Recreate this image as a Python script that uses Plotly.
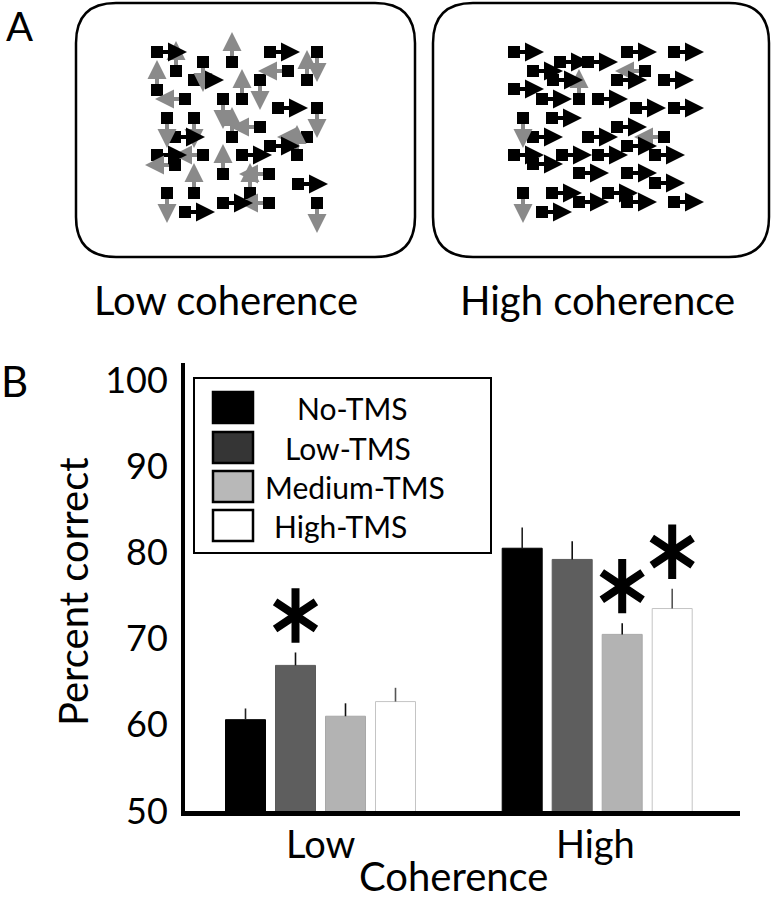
import plotly.graph_objects as go

# ---------------- data ----------------
coherence = ["Low", "High"]
conditions = ["No-TMS", "Low-TMS", "Medium-TMS", "High-TMS"]
pct_low = [60.6, 66.9, 61.0, 62.7]
pct_high = [80.5, 79.2, 70.5, 73.5]
err_low = [1.3, 1.5, 1.5, 1.6]
err_high = [2.4, 2.1, 1.3, 2.3]
significant = [(0, 1), (1, 2), (1, 3)]  # (coherence index, condition index)
y_ticks = [50, 60, 70, 80, 90, 100]

# panel A: moving-dot schematics (dot position, motion direction)
low_dot_x = [157, 176, 203, 194, 232, 270, 317, 307, 288, 157, 185, 242, 260, 223, 278, 317,
             167, 194, 175, 260, 232, 307, 270, 297, 157, 175, 203, 223, 242, 194, 269, 250,
             298, 167, 185, 223, 269, 317]
low_dot_y = [52, 71, 62, 80, 62, 52, 52, 80, 71, 90, 99, 99, 80, 99, 108, 108,
             118, 118, 137, 127, 137, 137, 146, 155, 155, 165, 155, 174, 155, 193, 174, 193,
             184, 193, 212, 203, 203, 203]
low_dot_dir = ["R", "U", "D", "R", "U", "R", "D", "U", "L", "U", "L", "U", "D", "D", "R", "D",
               "D", "D", "R", "L", "U", "L", "R", "U", "R", "L", "L", "U", "R", "U", "L", "U",
               "R", "D", "R", "R", "L", "D"]
high_dot_x = [514, 560, 588, 627, 674, 533, 553, 579, 645, 617, 664, 514, 542, 598, 636, 674,
              523, 552, 617, 533, 588, 664, 627, 514, 533, 562, 598, 655, 579, 627, 655, 523,
              552, 608, 627, 579, 674, 542]
high_dot_y = [52, 62, 62, 52, 52, 71, 80, 99, 71, 80, 80, 89, 99, 99, 108, 108,
              118, 118, 127, 137, 137, 137, 146, 155, 164, 155, 155, 155, 173, 173, 183, 193,
              193, 193, 202, 202, 202, 212]
high_dot_dir = ["R", "R", "R", "R", "R", "R", "R", "U", "L", "R", "R", "R", "R", "R", "R", "R",
                "D", "R", "R", "R", "R", "L", "R", "R", "R", "R", "R", "R", "R", "R", "R", "D",
                "R", "R", "R", "R", "R", "R"]

# ---------------- styles ----------------
FONT = "Lato, 'Open Sans', sans-serif"
bar_fill = ["#000000", "#5e5e5e", "#b3b3b3", "#ffffff"]
bar_edge = ["#000000", "#5a5a5a", "#a8a8a8", "#c4c4c4"]
err_color = ["#222222", "#111111", "#111111", "#555555"]
legend_fill = ["#000000", "#353535", "#b8b8b8", "#ffffff"]
GRAY = "#8a8a8a"

W, H = 772, 900
fig = go.Figure()

# ---------------- panel B bars ----------------
x0p, x1p = 185, 740          # axis extent in pixels
ytop, ybot = 363, 811
gc0, gc1 = 320.5, 597.2      # group centre pixels
ppu = gc1 - gc0
group_width = 200 / ppu

for i, name in enumerate(conditions):
    fig.add_trace(go.Bar(
        x=[0, 1], y=[pct_low[i], pct_high[i]], name=name,
        marker=dict(color=bar_fill[i], line=dict(color=bar_edge[i], width=1)),
        error_y=dict(type="data", symmetric=False, array=[err_low[i], err_high[i]],
                     arrayminus=[0, 0], thickness=1.6, width=0, color=err_color[i]),
        xaxis="x", yaxis="y", showlegend=False,
    ))

slot = group_width / len(conditions)
vals = [pct_low, pct_high]
errs = [err_low, err_high]
star_x = [g + (c - (len(conditions) - 1) / 2) * slot for g, c in significant]
star_y = [vals[g][c] + errs[g][c] + 4.3 for g, c in significant]
for sym in ["y-up-open", "y-down-open"]:
    fig.add_trace(go.Scatter(
        x=star_x, y=star_y, mode="markers", xaxis="x", yaxis="y", showlegend=False,
        marker=dict(symbol=sym, size=34, color="black",
                    line=dict(color="black", width=8)),
        hoverinfo="skip"))

# ---------------- panel A dots ----------------
TIP = 30
dvec = {"R": (1, 0), "L": (-1, 0), "U": (0, -1), "D": (0, 1)}
arrow_sym = {"R": "arrow-right", "L": "arrow-left", "U": "arrow-up", "D": "arrow-down"}


def add_dots(xs, ys, dirs):
    for color, sel in [("black", lambda d: d == "R"), (GRAY, lambda d: d != "R")]:
        lx, ly = [], []
        for x, y, d in zip(xs, ys, dirs):
            if sel(d):
                dx, dy = dvec[d]
                lx += [x, x + dx * (TIP - 8), None]
                ly += [y, y + dy * (TIP - 8), None]
        fig.add_trace(go.Scatter(x=lx, y=ly, mode="lines", xaxis="x2", yaxis="y2",
                                 line=dict(color=color, width=4), showlegend=False,
                                 hoverinfo="skip"))
    fig.add_trace(go.Scatter(x=xs, y=ys, mode="markers", xaxis="x2", yaxis="y2",
                             marker=dict(symbol="square", size=12, color="black"),
                             showlegend=False, hoverinfo="skip"))
    for d in ["U", "D", "L", "R"]:
        px = [x + dvec[d][0] * TIP for x, dd in zip(xs, dirs) if dd == d]
        py = [y + dvec[d][1] * TIP for y, dd in zip(ys, dirs) if dd == d]
        if not px:
            continue
        fig.add_trace(go.Scatter(
            x=px, y=py, mode="markers", xaxis="x2", yaxis="y2", showlegend=False,
            marker=dict(symbol=arrow_sym[d], size=19,
                        color="black" if d == "R" else GRAY, line=dict(width=0)),
            hoverinfo="skip"))


add_dots(low_dot_x, low_dot_y, low_dot_dir)
add_dots(high_dot_x, high_dot_y, high_dot_dir)


def rounded_rect(x0, y0, x1, y1, r):
    return (f"M{x0 + r},{y0} L{x1 - r},{y0} Q{x1},{y0} {x1},{y0 + r} "
            f"L{x1},{y1 - r} Q{x1},{y1} {x1 - r},{y1} L{x0 + r},{y1} "
            f"Q{x0},{y1} {x0},{y1 - r} L{x0},{y0 + r} Q{x0},{y0} {x0 + r},{y0} Z")


shapes = [
    dict(type="path", xref="x2", yref="y2", path=rounded_rect(76, 3, 415, 257, 40),
         line=dict(color="black", width=2.5), layer="below"),
    dict(type="path", xref="x2", yref="y2", path=rounded_rect(433, 3, 769, 257, 40),
         line=dict(color="black", width=2.5), layer="below"),
    # legend box
    dict(type="rect", xref="x2", yref="y2", x0=194, y0=378, x1=491, y1=553,
         line=dict(color="black", width=2), fillcolor="white"),
]
sw_top = [392, 432, 471, 510]
for i in range(len(conditions)):
    shapes.append(dict(type="rect", xref="x2", yref="y2", x0=213, x1=253,
                       y0=sw_top[i], y1=sw_top[i] + 31,
                       line=dict(color="black", width=2.5), fillcolor=legend_fill[i]))

leg_text_x = [352, 348, 355, 340]
ann = []
for i, name in enumerate(conditions):
    ann.append(dict(x=leg_text_x[i], y=sw_top[i] + 16, xref="x2", yref="y2", text=name,
                    showarrow=False, font=dict(size=30, family=FONT, color="black")))


def label(x, y, text, size, angle=0, yanchor="middle"):
    ann.append(dict(x=x, y=y, xref="x2", yref="y2", text=text, showarrow=False,
                    textangle=angle, yanchor=yanchor,
                    font=dict(size=size, family=FONT, color="black")))


label(19, 0, "A", 40, yanchor="top")
label(14, 381, "B", 42)
label(226, 300, "Low coherence", 40)
label(597, 300, "High coherence", 40)
label(320, 843, coherence[0], 38)
label(595, 843, coherence[1], 38)
label(453, 876, "Coherence", 40)
label(73, 592, "Percent correct", 40, angle=-90)

fig.update_layout(
    template="none",
    width=W, height=H, margin=dict(l=0, r=0, t=0, b=0, pad=0, autoexpand=False),
    paper_bgcolor="white", plot_bgcolor="rgba(0,0,0,0)",
    barmode="group", bargap=1 - group_width, bargroupgap=0.2,
    xaxis=dict(domain=[x0p / W, x1p / W],
               range=[(x0p - gc0) / ppu, (x1p - gc0) / ppu], automargin=False,
               showline=True, linewidth=5, linecolor="black", showticklabels=False,
               ticks="", showgrid=False, zeroline=False, anchor="y", fixedrange=True),
    yaxis=dict(domain=[1 - ybot / H, 1 - ytop / H], range=[50, 102], automargin=False,
               showline=True, linewidth=4, linecolor="black", tickvals=y_ticks,
               ticks="", showgrid=False, zeroline=False, anchor="x",
               tickfont=dict(size=36, family=FONT, color="black"),
               ticklabelstandoff=6, fixedrange=True),
    xaxis2=dict(domain=[0, 1], range=[0, W], visible=False, anchor="y2",
                automargin=False, fixedrange=True),
    yaxis2=dict(domain=[0, 1], range=[H, 0], visible=False, anchor="x2",
                automargin=False, fixedrange=True),
    shapes=shapes, annotations=ann, showlegend=False,
)

# make the 772x900 figure fill the window exactly (no default body margin / stray line boxes)
page_fix = (
    "var s=document.documentElement.style;s.margin='0';s.padding='0';"
    "s.overflow='hidden';s.height='900px';"
    "var b=document.body.style;b.margin='0';b.padding='0';b.overflow='hidden';"
    "b.height='900px';b.fontSize='0';b.lineHeight='0';"
)
fig.write_html("out.html", post_script=page_fix, config={"displayModeBar": False})
